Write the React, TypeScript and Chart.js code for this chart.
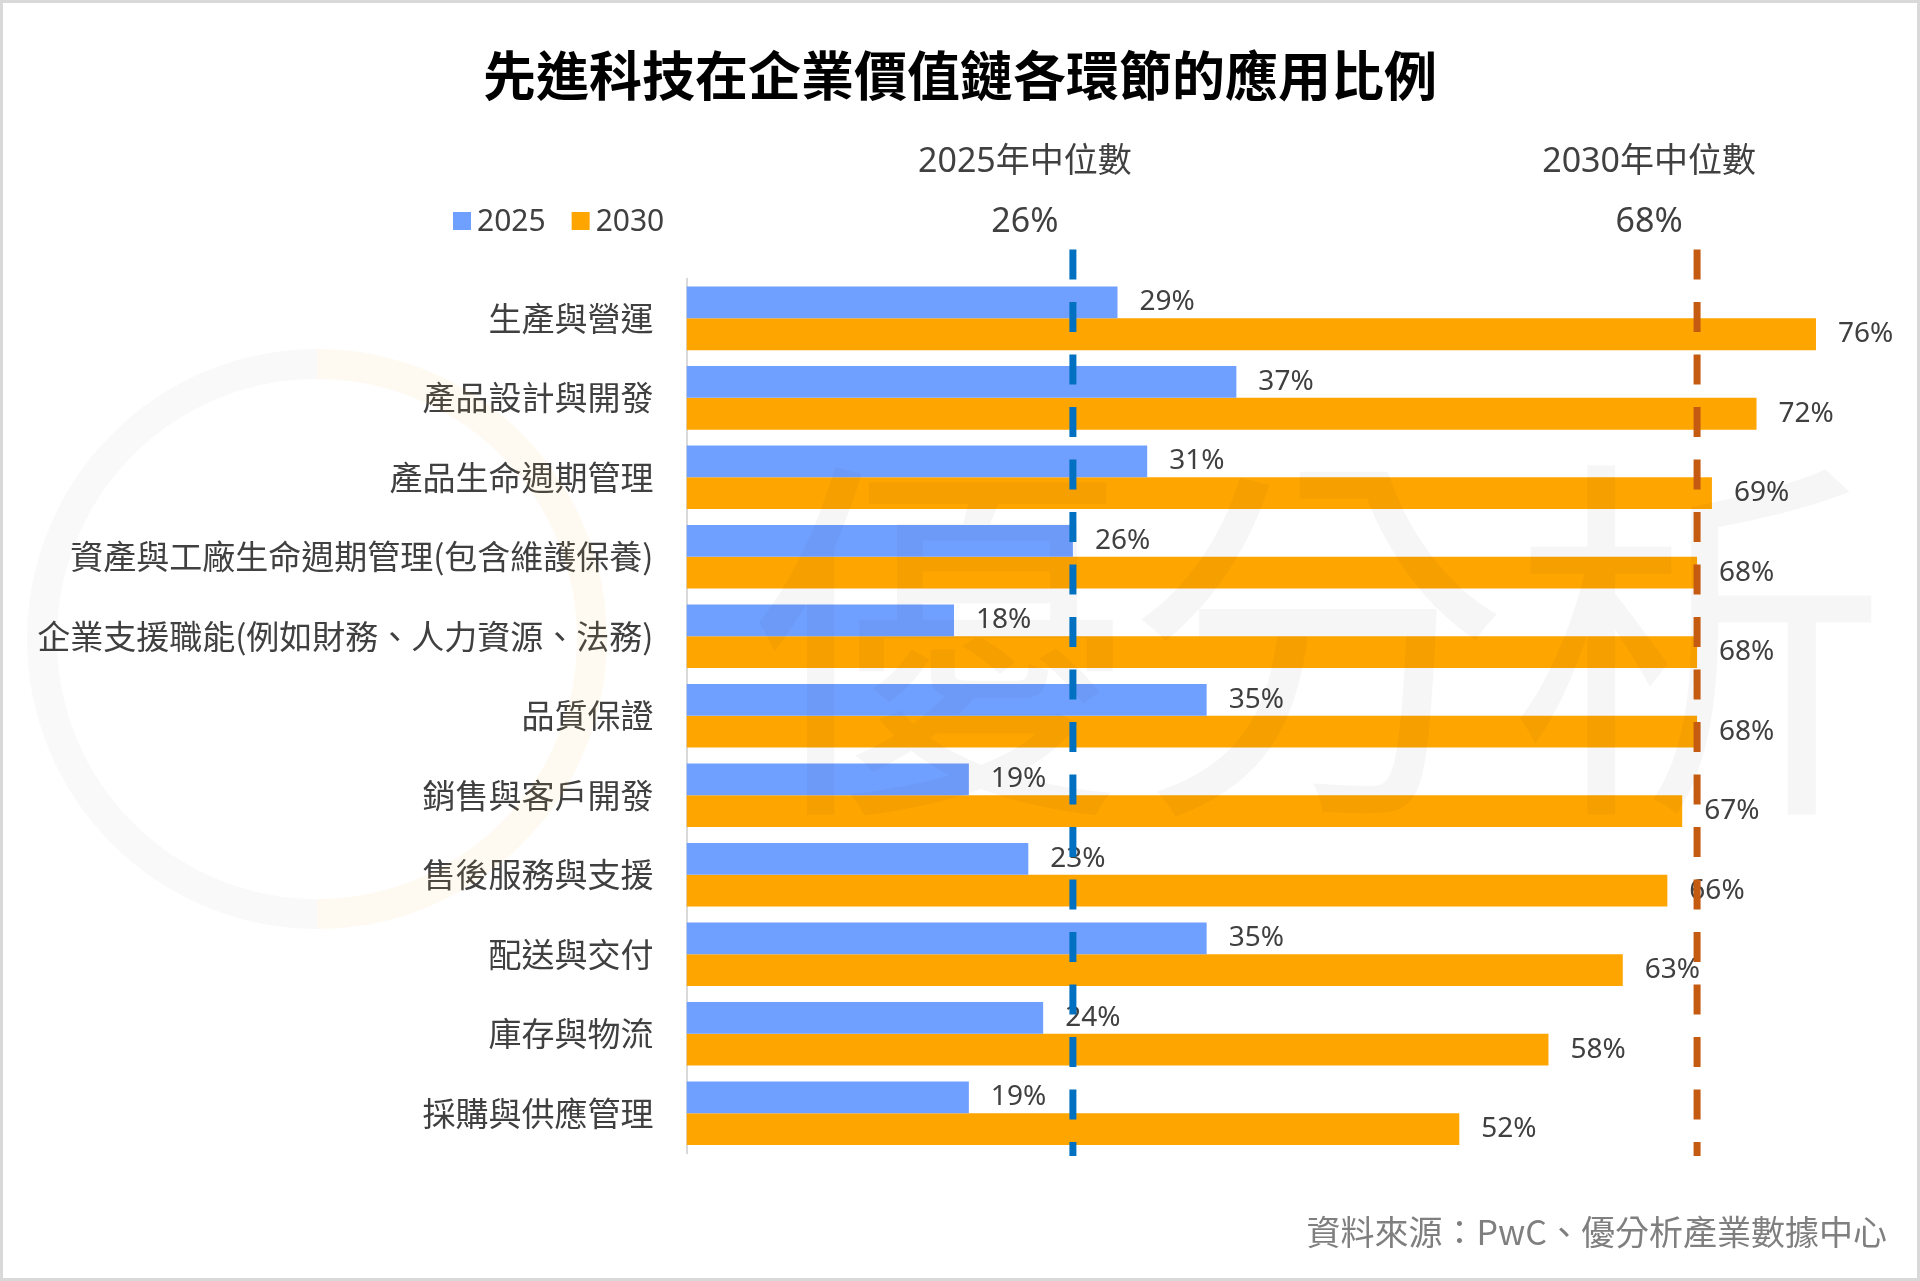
import { useEffect, useRef } from 'react';
import { Chart, registerables } from 'chart.js';

Chart.register(...registerables);

const chartTitle = '先進科技在企業價值鏈各環節的應用比例';
const sourceNote = '資料來源：PwC、優分析產業數據中心';

const categories = [
  '生產與營運',
  '產品設計與開發',
  '產品生命週期管理',
  '資產與工廠生命週期管理(包含維護保養)',
  '企業支援職能(例如財務、人力資源、法務)',
  '品質保證',
  '銷售與客戶開發',
  '售後服務與支援',
  '配送與交付',
  '庫存與物流',
  '採購與供應管理',
];
const seriesLabels = ['2025', '2030'];
const values2025 = [29, 37, 31, 26, 18, 35, 19, 23, 35, 24, 19];
const values2030 = [76, 72, 69, 68, 68, 68, 67, 66, 63, 58, 52];
const medianValues = [26, 68];
const medianLabels = ['2025年中位數', '2030年中位數'];

const SANS = '"Noto Sans", "Noto Sans CJK TC", sans-serif';
const CJK = '"Noto Sans CJK TC", "Noto Sans", sans-serif';
const TEXT = '#404040';

const decorPlugin = {
  id: 'decor',
  beforeDraw(chart: any) {
    const { ctx, width, height } = chart;
    ctx.save();
    ctx.fillStyle = '#ffffff';
    ctx.fillRect(0, 0, width, height);
    ctx.strokeStyle = '#d9d9d9';
    ctx.lineWidth = 3;
    ctx.strokeRect(1.5, 1.5, width - 3, height - 3);
    ctx.restore();
  },
  afterDatasetsDraw(chart: any) {
    const { ctx } = chart;
    ctx.save();
    ctx.font = `28px ${SANS}`;
    ctx.fillStyle = TEXT;
    ctx.textAlign = 'left';
    ctx.textBaseline = 'middle';
    chart.data.datasets.forEach((ds: any, i: number) => {
      chart.getDatasetMeta(i).data.forEach((bar: any, j: number) => {
        ctx.fillText(`${ds.data[j]}%`, bar.x + 22, bar.y);
      });
    });
    ctx.restore();
  },
  afterDraw(chart: any) {
    const { ctx, chartArea, scales } = chart;
    ctx.save();

    // watermark
    ctx.lineWidth = 30;
    ctx.strokeStyle = 'rgba(0,0,0,0.025)';
    ctx.beginPath();
    ctx.arc(317, 639, 275, Math.PI * 0.5, Math.PI * 1.5);
    ctx.stroke();
    ctx.strokeStyle = 'rgba(255,190,60,0.07)';
    ctx.beginPath();
    ctx.arc(317, 639, 275, Math.PI * 1.5, Math.PI * 2.5);
    ctx.stroke();
    ctx.font = `380px ${CJK}`;
    ctx.fillStyle = 'rgba(0,0,0,0.035)';
    ctx.textAlign = 'center';
    ctx.textBaseline = 'middle';
    ctx.fillText('優分析', 1318, 640);

    // median lines
    const lineColors = ['#0070C0', '#C55A11'];
    medianValues.forEach((v, i) => {
      const x = scales.x.getPixelForValue(v);
      ctx.strokeStyle = lineColors[i];
      ctx.lineWidth = 7;
      ctx.setLineDash([30, 22.5]);
      ctx.beginPath();
      ctx.moveTo(x, chartArea.top - 29);
      ctx.lineTo(x, chartArea.bottom + 3);
      ctx.stroke();
      ctx.setLineDash([]);

      ctx.fillStyle = TEXT;
      ctx.textAlign = 'center';
      ctx.font = `34px ${SANS}`;
      ctx.fillText(medianLabels[i], x - 48, 162);
      ctx.fillText(`${v}%`, x - 48, 222);
    });

    // legend
    ctx.font = `30px ${SANS}`;
    ctx.textAlign = 'left';
    let lx = 453;
    chart.data.datasets.forEach((ds: any) => {
      ctx.fillStyle = ds.backgroundColor;
      ctx.fillRect(lx, 212, 18, 18);
      ctx.fillStyle = TEXT;
      ctx.fillText(ds.label, lx + 24, 222);
      lx += 24 + ctx.measureText(ds.label).width + 26;
    });

    // source
    ctx.font = `34px ${CJK}`;
    ctx.fillStyle = '#7f7f7f';
    ctx.textAlign = 'right';
    ctx.fillText(sourceNote, 1887, 1232);

    ctx.restore();
  },
};

export default function App() {
  const chartRef = useRef<HTMLCanvasElement>(null);
  const chartInstance = useRef<Chart | null>(null);

  useEffect(() => {
    document.body.style.margin = '0';
    if (!chartRef.current) return;
    const ctx = chartRef.current.getContext('2d');
    if (!ctx) return;

    chartInstance.current = new Chart(ctx, {
      type: 'bar',
      data: {
        labels: categories,
        datasets: [
          {
            label: seriesLabels[0],
            data: values2025,
            backgroundColor: '#70A0FF',
            categoryPercentage: 0.8,
            barPercentage: 1.0,
          },
          {
            label: seriesLabels[1],
            data: values2030,
            backgroundColor: '#FFA500',
            categoryPercentage: 0.8,
            barPercentage: 1.0,
          },
        ],
      },
      options: {
        indexAxis: 'y',
        responsive: true,
        maintainAspectRatio: false,
        animation: false,
        layout: { padding: { left: 0, right: 0, top: 0, bottom: 128 } },
        scales: {
          x: { display: false, min: 0, max: 83 },
          y: {
            grid: { display: false, drawTicks: false },
            border: { display: true, color: '#d9d9d9', width: 2 },
            ticks: {
              color: TEXT,
              padding: 33,
              font: { family: CJK, size: 33 },
            },
            afterFit(scale: any) {
              scale.width = 686.5;
            },
          },
        },
        plugins: {
          legend: { display: false },
          tooltip: { enabled: false },
          title: {
            display: true,
            text: chartTitle,
            color: '#000000',
            font: { family: CJK, size: 53, weight: 'bold', lineHeight: 1.2 },
            padding: { top: 44, bottom: 171 },
          },
        },
      },
      plugins: [decorPlugin],
    });

    return () => {
      if (chartInstance.current) {
        chartInstance.current.destroy();
        chartInstance.current = null;
      }
    };
  }, []);

  return (
    <div style={{ width: '1920px', height: '1281px', position: 'relative' }}>
      <canvas ref={chartRef} />
    </div>
  );
}
